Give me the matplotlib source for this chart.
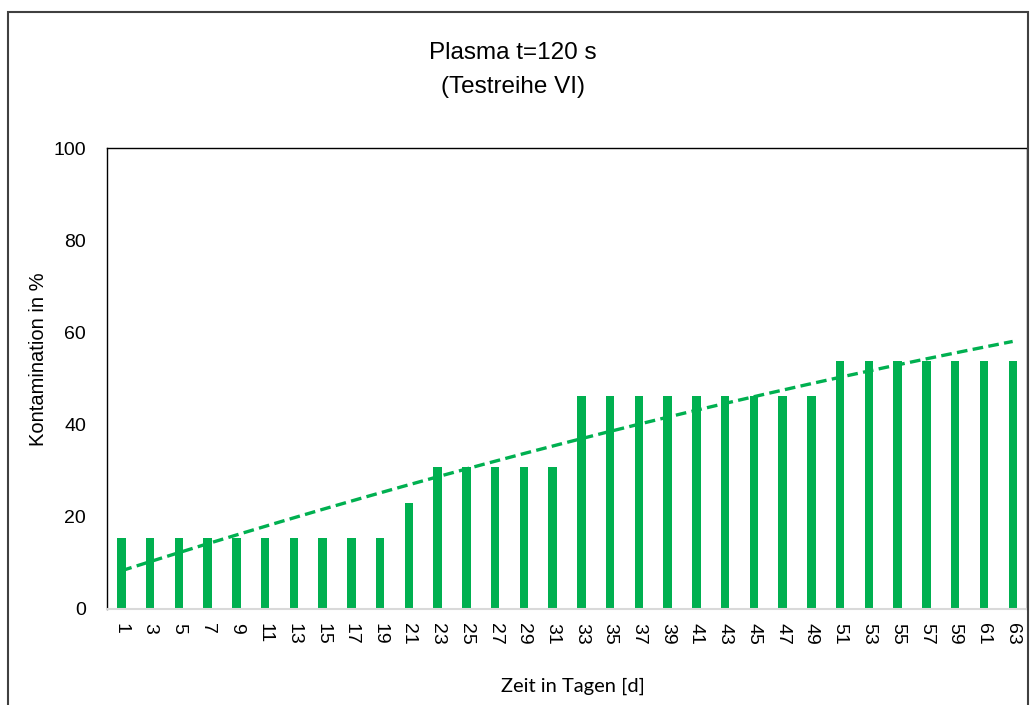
"""Kontamination ueber Zeit, Plasma t=120 s (Testreihe VI)."""
import matplotlib
matplotlib.use("Agg")
import matplotlib.pyplot as plt
import numpy as np
from matplotlib.patches import Rectangle

# days and contamination values
days = [str(d) for d in range(1, 64, 2)]
kontamination = [15.38] * 10 + [23.08] + [30.77] * 5 + [46.15] * 9 + [53.85] * 7
yticks = [0, 20, 40, 60, 80, 100]

green = '#00B050'
plt.rcParams['font.family'] = ['Liberation Sans', 'DejaVu Sans']

fig = plt.figure(figsize=(10.32, 7.05), dpi=100)
ax = fig.add_axes([0.1037, 0.1362, 0.8915, 0.6538])

x = np.arange(len(days))
ax.bar(x, kontamination, width=0.29, color=green, zorder=2)

# trend line (excel polynomial trendline, order 2)
coef = np.polyfit(x, kontamination, 2)
xs = np.linspace(0, len(days) - 1, 200)
ax.plot(xs, np.polyval(coef, xs), color=green, linewidth=2.4,
        linestyle=(0, (3.2, 1.6)), zorder=3)

ax.set_xlim(-0.5, len(days) - 0.5)
ax.set_ylim(0, 100)
ax.set_yticks(yticks)
ax.set_xticks(x)
ax.set_xticklabels(days, rotation=270, fontsize=14)
ax.tick_params(axis='y', labelsize=14, length=0, pad=15)
ax.tick_params(axis='x', length=0, pad=10)

ax.spines['bottom'].set_color('#d9d9d9')
ax.spines['bottom'].set_linewidth(1.5)
for s in ['left', 'top', 'right']:
    ax.spines[s].set_color('black')
    ax.spines[s].set_linewidth(1.0)

fig.text(0.037, 0.491, 'Kontamination in %', rotation=90, ha='center', va='center',
         fontsize=14.5)
fig.text(0.555, 0.027, 'Zeit in Tagen [d]', ha='center', va='center',
         fontsize=14.5, family=['Lato', 'DejaVu Sans'])

fig.text(0.497, 0.925, 'Plasma t=120 s', ha='center', va='center', fontsize=17.5)
fig.text(0.497, 0.877, '(Testreihe VI)', ha='center', va='center', fontsize=17.5)

# outer frame of the chart object
fig.patches.append(Rectangle((0.0075, -0.05), 0.989, 1.033, transform=fig.transFigure,
                             fill=False, edgecolor='#404040', linewidth=1.5))

fig.savefig('out.png', dpi=100)
